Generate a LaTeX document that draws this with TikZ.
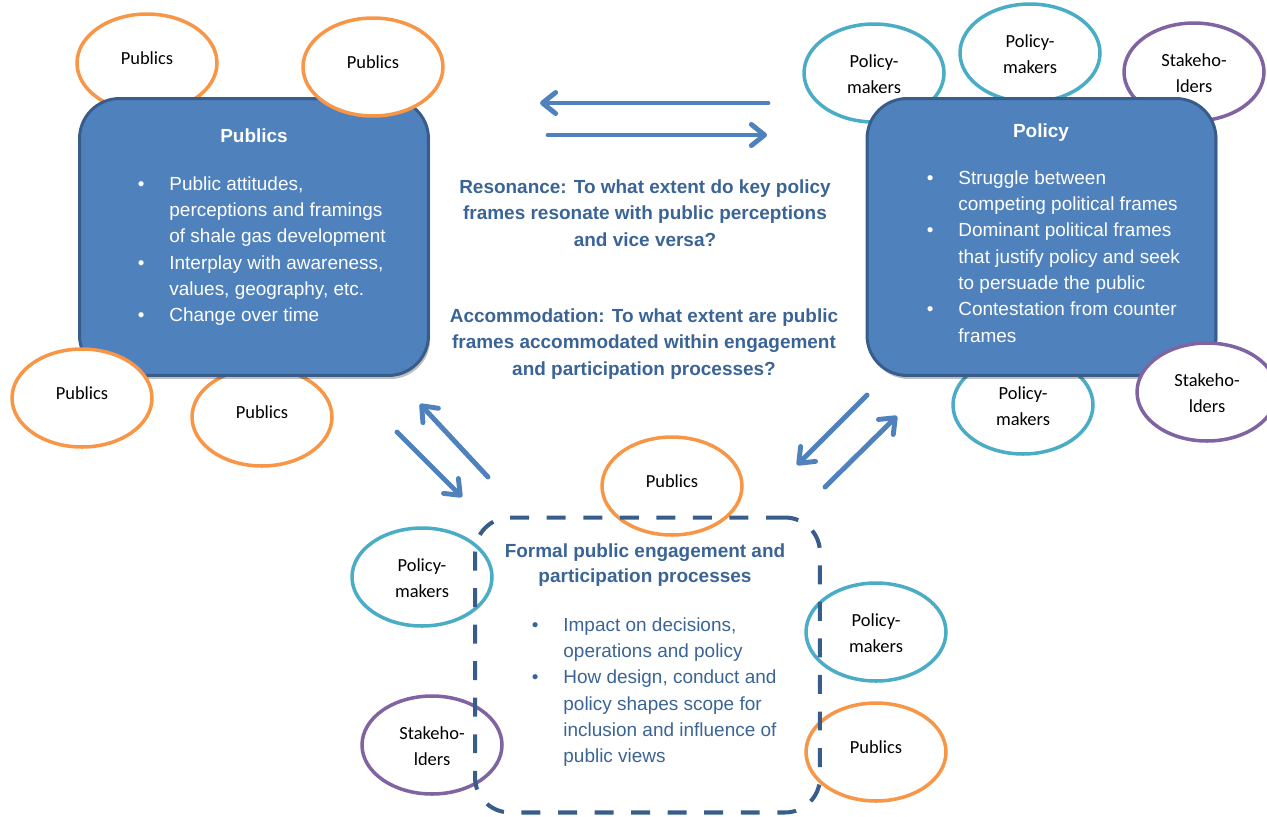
\documentclass[tikz,border=0pt]{standalone}
\usepackage{fontspec}
\setmainfont{Liberation Sans}
\newfontfamily\calib{Carlito}
\usetikzlibrary{arrows.meta,positioning,shapes.geometric,shadows}

\definecolor{boxfill}{HTML}{4F81BD}
\definecolor{boxline}{HTML}{385D8A}
\definecolor{pubcol}{HTML}{F79646}
\definecolor{pmcol}{HTML}{4BACC6}
\definecolor{shcol}{HTML}{8064A2}
\definecolor{txtblue}{HTML}{3B6496}

\newcommand{\bodyfont}{\fontsize{10.8}{15}\selectfont}
\newcommand{\bubfont}{\calib\fontsize{10.5}{15.1}\selectfont}
\newcommand{\twoline}[2]{\begin{tabular}[t]{@{}c@{}}#1\\#2\end{tabular}}

\begin{document}
\begin{tikzpicture}[x=0.02cm,y=-0.02cm,
  frame/.style={draw=boxline,line width=1.7pt,fill=boxfill,rounded corners=0.8cm,
    minimum width=6.98cm,minimum height=5.54cm,
    drop shadow={shadow xshift=1pt,shadow yshift=-2pt,fill=black,opacity=0.25}},
  bub/.style={ellipse,draw,fill=white,line width=2pt,minimum width=2.8cm,minimum height=1.96cm,inner sep=0pt},
  pub/.style={bub,draw=pubcol},
  pm/.style={bub,draw=pmcol},
  sh/.style={bub,draw=shcol},
  lbl/.style={font=\bubfont,inner sep=0pt,yshift=3pt},
  two/.style={font=\bubfont,inner sep=0pt,yshift=-1.2pt},
  ttl/.style={anchor=base,inner sep=0pt,text=white,font=\bodyfont\bfseries},
  items/.style={anchor=base west,inner sep=0pt,font=\bodyfont},
  question/.style={anchor=base,inner sep=0pt,text=txtblue,font=\fontsize{10.8}{15.3}\selectfont\bfseries},
  flow/.style={draw=boxfill,line width=2.8pt,line cap=round,-{Straight Barb[length=7.5pt,width=12pt,round]}}]
\useasboundingbox (0,0) rectangle (1267,816);

% ellipses behind the boxes
\node[pub,label={[lbl]center:Publics}] (pubtl) at (147,63) {};
\node[pub,label={[lbl]center:Publics}] (publo) at (262,417) {};
\node[pm,label={[two]center:\twoline{Policy-}{makers}}] (pmtl) at (874,73) {};
\node[pm,label={[two]center:\twoline{Policy-}{makers}}] (pmtop) at (1030,53) {};
\node[sh,label={[two]center:\twoline{Stakeho-}{lders}}] (shtr) at (1194,72) {};
\node[pm,label={[two]center:\twoline{Policy-}{makers}}] (pmlo) at (1023,405) {};

% the two main boxes
\node[frame] (pubbox) at (254,237) {};
\node[frame] (polbox) at (1041.5,237) {};

% ellipses in front of the boxes
\node[pub,label={[lbl]center:Publics}] (pubtr) at (373,67) {};
\node[pub,label={[lbl]center:Publics}] (pubbl) at (82,398) {};
\node[sh,label={[two]center:\twoline{Stakeho-}{lders}}] (shbr) at (1207,392) {};

% box texts
\node[ttl] (pubttl) at (254,142) {Publics};
\node[items,text=white] (publist) at (137.6,190) {\begin{tabular}[t]{@{}p{17.9pt}@{}l@{}}
\textbullet & Public attitudes,\\
 & perceptions and framings\\
 & of shale gas development\\
\textbullet & Interplay with awareness,\\
 & values, geography, etc.\\
\textbullet & Change over time
\end{tabular}};
\node[ttl] (polttl) at (1041,137) {Policy};
\node[items,text=white] (pollist) at (926.6,184) {\begin{tabular}[t]{@{}p{17.9pt}@{}l@{}}
\textbullet & Struggle between\\
 & competing political frames\\
\textbullet & Dominant political frames\\
 & that justify policy and seek\\
 & to persuade the public\\
\textbullet & Contestation from counter\\
 & frames
\end{tabular}};

% questions in the middle
\node[question] (reson) at (645,193) {\begin{tabular}[t]{@{}c@{}}
Resonance: To what extent do key policy\\
frames resonate with public perceptions\\
and vice versa?
\end{tabular}};
\node[question] (accom) at (644,322) {\begin{tabular}[t]{@{}c@{}}
Accommodation: To what extent are public\\
frames accommodated within engagement\\
and participation processes?
\end{tabular}};

% ellipses round the formal processes
\node[pub,label={[lbl]center:Publics}] (pubmid) at (672,486) {};
\node[pm,label={[two]center:\twoline{Policy-}{makers}}] (pmleft) at (422,577) {};
\node[sh,label={[two]center:\twoline{Stakeho-}{lders}}] (shleft) at (432,745) {};
\node[pm,label={[two]center:\twoline{Policy-}{makers}}] (pmright) at (876,632) {};
\node[pub,label={[lbl]center:Publics}] (pubright) at (876,752) {};

% formal engagement box
\node[draw=boxline,line width=2.3pt,dash pattern=on 10.8pt off 10pt,rounded corners=0.7cm,
  minimum width=6.9cm,minimum height=5.9cm] (formal) at (647.5,665) {};
\node[question] (formttl) at (645,557) {\fontsize{10.8}{14.7}\selectfont\begin{tabular}[t]{@{}c@{}}
Formal public engagement and\\
participation processes
\end{tabular}};
\node[items,text=txtblue] (formlist) at (531.6,631) {\begin{tabular}[t]{@{}p{17.9pt}@{}l@{}}
\textbullet & Impact on decisions,\\
 & operations and policy\\
\textbullet & How design, conduct and\\
 & policy shapes scope for\\
 & inclusion and influence of\\
 & public views
\end{tabular}};

% arrows
\coordinate (r1s) at (768,103);
\coordinate (r1e) at (540,103);
\coordinate (r2s) at (548,135);
\coordinate (r2e) at (767,135);
\coordinate (a1s) at (397,432);
\coordinate (a1e) at (462,497);
\coordinate (a2s) at (488,477);
\coordinate (a2e) at (420,404);
\coordinate (b1s) at (867,395);
\coordinate (b1e) at (797,465);
\coordinate (b2s) at (825,487);
\coordinate (b2e) at (897,416);
\draw[flow] (r1s) -- (r1e);
\draw[flow] (r2s) -- (r2e);
\draw[flow] (a1s) -- (a1e);
\draw[flow] (a2s) -- (a2e);
\draw[flow] (b1s) -- (b1e);
\draw[flow] (b2s) -- (b2e);
\end{tikzpicture}
\end{document}
